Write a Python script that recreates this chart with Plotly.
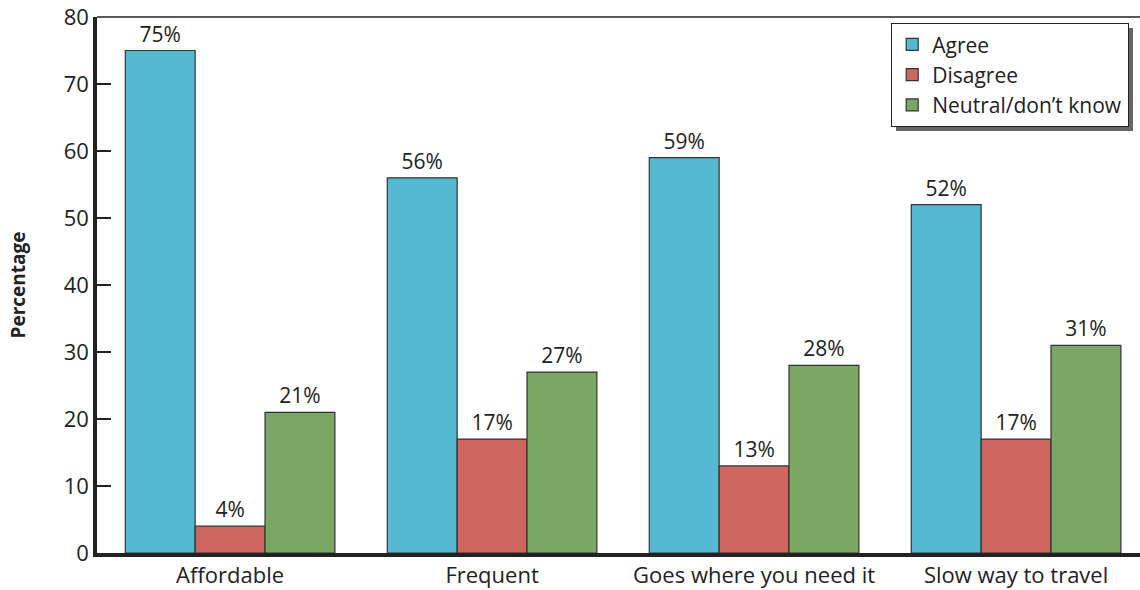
import plotly.graph_objects as go

# Survey responses by statement (percent)
categories = ["Affordable", "Frequent", "Goes where you need it", "Slow way to travel"]
agree = [75, 56, 59, 52]
disagree = [4, 17, 13, 17]
neutral = [21, 27, 28, 31]
series_names = ["Agree", "Disagree", "Neutral/don\u2019t know"]
y_ticks = [0, 10, 20, 30, 40, 50, 60, 70, 80]

colors = ["#56B9D2", "#CD6760", "#7BA764"]
font_family = "Open Sans, Noto Sans, sans-serif"

W, H = 1140, 590
L, T, B, R = 97, 17, 37, 0
PW, PH = W - L - R, H - T - B


def px_x(x):
    return (x - L) / PW


def px_y(y):
    return (H - B - y) / PH


fig = go.Figure()
for name, vals, col in zip(series_names, [agree, disagree, neutral], colors):
    fig.add_trace(go.Bar(
        name=name, x=categories, y=vals,
        marker=dict(color=col, line=dict(color="#333333", width=1.2)),
        text=[f"{v}%" for v in vals], textposition="outside",
        textfont=dict(size=21, color="#222222", family=font_family),
        cliponaxis=False,
    ))

# legend drop shadow (legend box is drawn over it)
fig.add_shape(type="rect", xref="paper", yref="paper",
              x0=px_x(896), x1=px_x(1133), y0=px_y(131), y1=px_y(28),
              fillcolor="#666666", line=dict(width=0), layer="above")
# thin top frame line
fig.add_shape(type="line", xref="paper", yref="paper", x0=0, x1=1, y0=1, y1=1,
              line=dict(color="#222222", width=1.5))

fig.update_layout(
    width=W, height=H,
    margin=dict(l=L, r=R, t=T, b=B),
    plot_bgcolor="white", paper_bgcolor="white",
    barmode="group", bargap=0.2, bargroupgap=0,
    font=dict(family=font_family, color="#222222"),
    showlegend=True,
    legend=dict(
        x=px_x(891), y=px_y(23),
        xanchor="left", yanchor="top",
        bgcolor="white", bordercolor="#222222", borderwidth=1.2,
        font=dict(size=21, color="#222222"),
        traceorder="normal", itemwidth=30, tracegroupgap=0,
    ),
    xaxis=dict(
        range=[-0.508, 3.473], showgrid=False,
        showline=True, linecolor="#222222", linewidth=3.5,
        ticks="", tickfont=dict(size=22, color="#222222"),
    ),
    yaxis=dict(
        range=[0, 80], tickvals=y_ticks, showgrid=False, zeroline=False,
        showline=True, linecolor="#222222", linewidth=3.5,
        ticks="inside", ticklen=14, tickwidth=1.5, tickcolor="#222222",
        tickfont=dict(size=22, color="#222222"),
        title=dict(text="<b>Percentage</b>", font=dict(size=19, color="#222222"), standoff=34),
    ),
)

fig.write_html("out.html")
